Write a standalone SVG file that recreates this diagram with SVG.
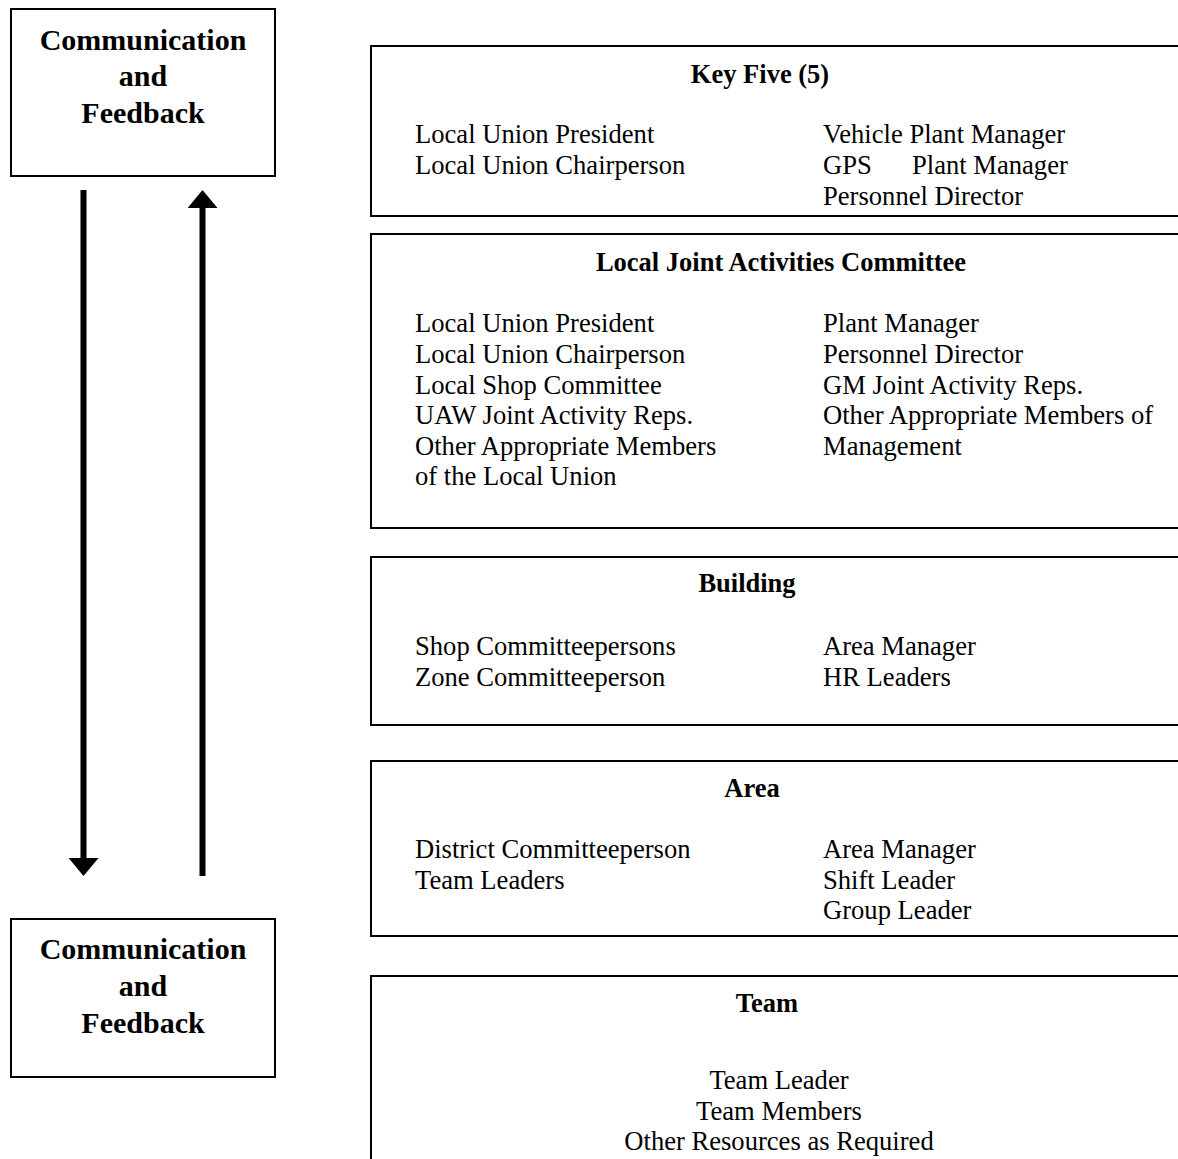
<svg xmlns="http://www.w3.org/2000/svg" width="1178" height="1159" viewBox="0 0 1178 1159">
<style>
  .box { fill: #fff; stroke: #000; stroke-width: 2; }
  .side { font-family: "Liberation Serif", "Times New Roman", serif; font-weight: bold; font-size: 30px; text-anchor: middle; fill: #000; }
  .title { font-family: "Liberation Serif", "Times New Roman", serif; font-weight: bold; font-size: 26.5px; text-anchor: middle; fill: #000; }
  .item { font-family: "Liberation Serif", "Times New Roman", serif; font-size: 26.6px; fill: #000; }
  .mid { text-anchor: middle; }
  .flow { stroke: #000; stroke-width: 6; fill: none; }
</style>
<defs>
  <marker id="head" viewBox="0 0 18 30" refX="0" refY="15" markerWidth="18" markerHeight="30" markerUnits="userSpaceOnUse" orient="auto">
    <path d="M0,0 L18,15 L0,30 Z" fill="#000"/>
  </marker>
</defs>
<rect width="1178" height="1159" fill="#fff"/>

<!-- feedback boxes -->
<g id="feedback-top">
  <rect class="box" x="11" y="9" width="264" height="167"/>
  <text class="side" x="143" y="50">Communication</text>
  <text class="side" x="143" y="86">and</text>
  <text class="side" x="143" y="123">Feedback</text>
</g>
<g id="feedback-bottom">
  <rect class="box" x="11" y="919" width="264" height="158"/>
  <text class="side" x="143" y="959">Communication</text>
  <text class="side" x="143" y="996">and</text>
  <text class="side" x="143" y="1033">Feedback</text>
</g>

<!-- connectors: downward and upward flow -->
<g id="connectors">
  <line class="flow" x1="83.5" y1="190" x2="83.5" y2="858" marker-end="url(#head)"/>
  <line class="flow" x1="202.5" y1="876" x2="202.5" y2="208" marker-end="url(#head)"/>
</g>

<g id="key-five">
  <rect class="box" x="371" y="46" width="820" height="170"/>
  <text class="title" x="760" y="83">Key Five (5)</text>
  <text class="item" x="415" y="143">Local Union President</text>
  <text class="item" x="415" y="174">Local Union Chairperson</text>
  <text class="item" x="823" y="143">Vehicle Plant Manager</text>
  <text class="item" x="823" y="174">GPS</text>
  <text class="item" x="912" y="174">Plant Manager</text>
  <text class="item" x="823" y="205">Personnel Director</text>
</g>

<g id="ljac">
  <rect class="box" x="371" y="234" width="820" height="294"/>
  <text class="title" x="781" y="271">Local Joint Activities Committee</text>
  <text class="item" x="415" y="332">Local Union President</text>
  <text class="item" x="415" y="363">Local Union Chairperson</text>
  <text class="item" x="415" y="394">Local Shop Committee</text>
  <text class="item" x="415" y="424">UAW Joint Activity Reps.</text>
  <text class="item" x="415" y="455">Other Appropriate Members</text>
  <text class="item" x="415" y="485">of the Local Union</text>
  <text class="item" x="823" y="332">Plant Manager</text>
  <text class="item" x="823" y="363">Personnel Director</text>
  <text class="item" x="823" y="394">GM Joint Activity Reps.</text>
  <text class="item" x="823" y="424">Other Appropriate Members of</text>
  <text class="item" x="823" y="455">Management</text>
</g>

<g id="building">
  <rect class="box" x="371" y="557" width="820" height="168"/>
  <text class="title" x="747" y="592">Building</text>
  <text class="item" x="415" y="655">Shop Committeepersons</text>
  <text class="item" x="415" y="686">Zone Committeeperson</text>
  <text class="item" x="823" y="655">Area Manager</text>
  <text class="item" x="823" y="686">HR Leaders</text>
</g>

<g id="area">
  <rect class="box" x="371" y="761" width="820" height="175"/>
  <text class="title" x="752" y="797">Area</text>
  <text class="item" x="415" y="858">District Committeeperson</text>
  <text class="item" x="415" y="889">Team Leaders</text>
  <text class="item" x="823" y="858">Area Manager</text>
  <text class="item" x="823" y="889">Shift Leader</text>
  <text class="item" x="823" y="919">Group Leader</text>
</g>

<g id="team">
  <rect class="box" x="371" y="976" width="820" height="200"/>
  <text class="title" x="767" y="1012">Team</text>
  <text class="item mid" x="779" y="1089">Team Leader</text>
  <text class="item mid" x="779" y="1120">Team Members</text>
  <text class="item mid" x="779" y="1150">Other Resources as Required</text>
</g>
</svg>
